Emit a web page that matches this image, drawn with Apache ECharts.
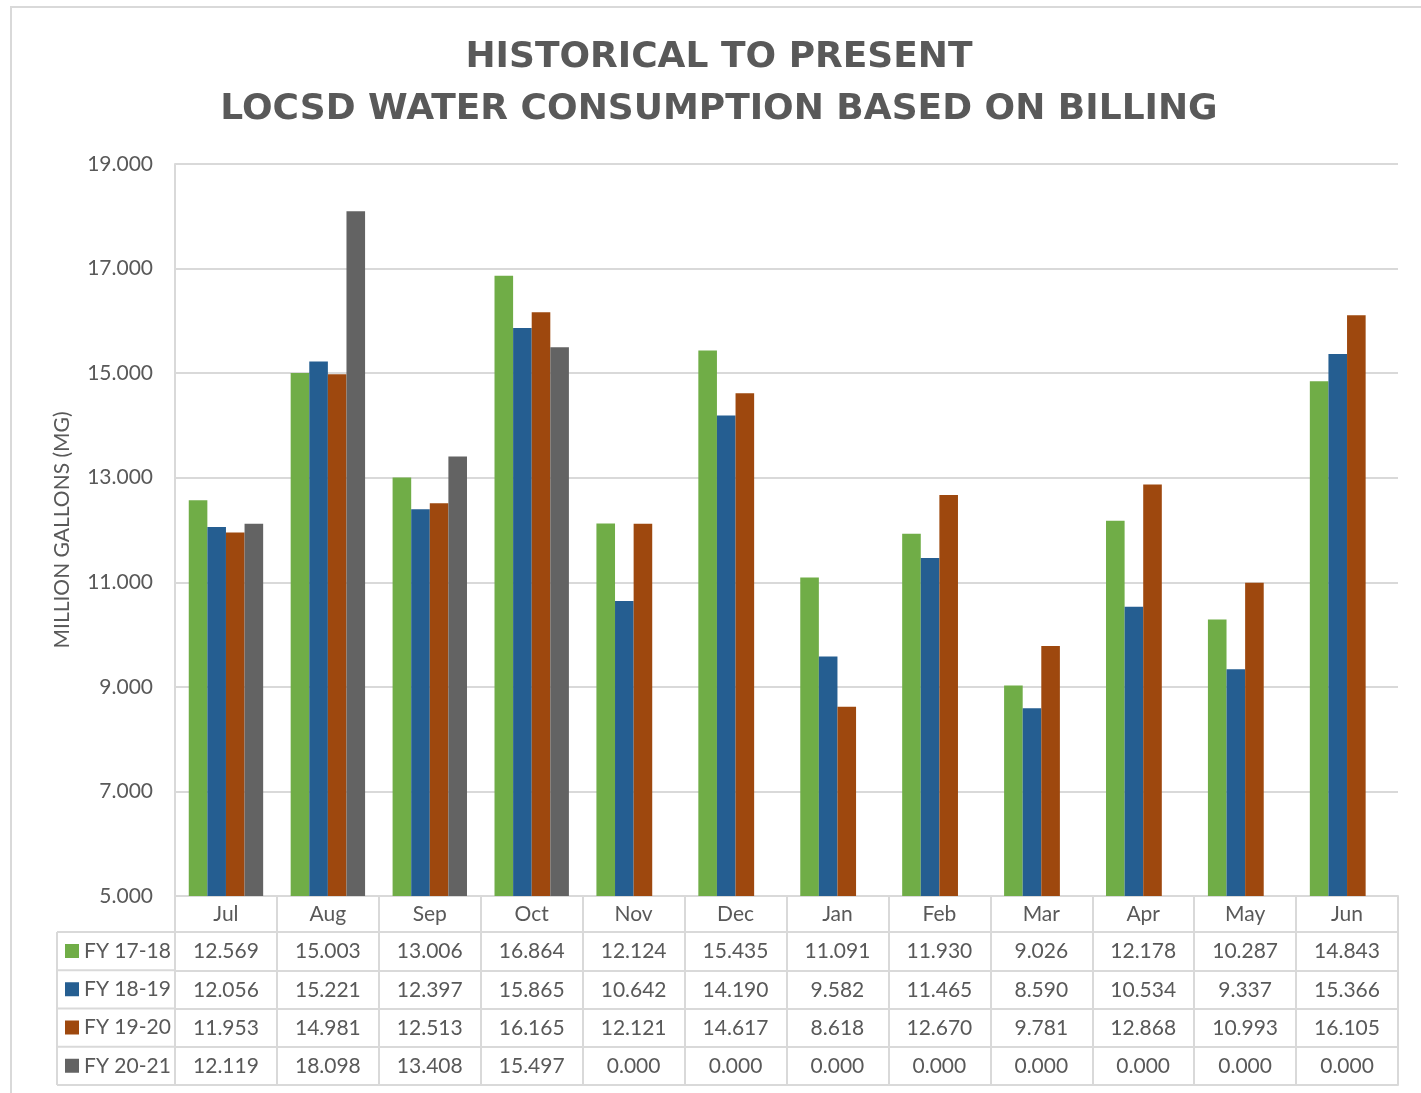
<!DOCTYPE html>
<html><head><meta charset="utf-8">
<script src="https://cdn.jsdelivr.net/npm/echarts@6/dist/echarts.min.js"></script>
<style>html,body{margin:0;padding:0;background:#fff}#c{width:1421px;height:1093px}</style>
</head><body><div id="c"></div>
<script>
const months = ['Jul','Aug','Sep','Oct','Nov','Dec','Jan','Feb','Mar','Apr','May','Jun'];
const seriesNames = ['FY 17-18','FY 18-19','FY 19-20','FY 20-21'];
const fy1718 = [12.569,15.003,13.006,16.864,12.124,15.435,11.091,11.930,9.026,12.178,10.287,14.843];
const fy1819 = [12.056,15.221,12.397,15.865,10.642,14.190,9.582,11.465,8.590,10.534,9.337,15.366];
const fy1920 = [11.953,14.981,12.513,16.165,12.121,14.617,8.618,12.670,9.781,12.868,10.993,16.105];
const fy2021 = [12.119,18.098,13.408,15.497,0,0,0,0,0,0,0,0];
const colors = ['#70AD47','#255E91','#9E480E','#636363'];
const yTicks = {min:5, max:19, interval:2};

const allData = [fy1718, fy1819, fy1920, fy2021];
const TXT = '#595959', LINE = '#D9D9D9';
const FONT = 'Lato';
const gridLeft = 175, gridRight = 23, gridTop = 164, gridBottom = 197;
const axisY = 1093 - gridBottom; // 896
const catRowH = 36, rowH = 38.25;
const tableLeft = 57;

const xAxes = [{
  type:'category', data: months, gridIndex:0, position:'bottom',
  axisLine:{show:true, lineStyle:{color:LINE, width:2}},
  axisTick:{show:true, length: catRowH + 4*rowH, interval:0, lineStyle:{color:LINE, width:2}},
  axisLabel:{color:TXT, fontFamily:FONT, fontSize:21, margin:8, interval:0}
}];
allData.forEach((arr, k) => {
  xAxes.push({
    type:'category', data: arr.map(v => v.toFixed(3)), gridIndex:0, position:'bottom',
    offset: catRowH + k*rowH,
    axisLine:{show:true, lineStyle:{color:LINE, width:2}},
    axisTick:{show:false},
    axisLabel:{color:TXT, fontFamily:FONT, fontSize:21, margin:9, interval:0}
  });
});
xAxes.push({
  type:'category', data: months.map(()=>''), gridIndex:0, position:'bottom',
  offset: catRowH + 4*rowH,
  axisLine:{show:true, lineStyle:{color:LINE, width:2}},
  axisTick:{show:false}, axisLabel:{show:false}
});

const series = allData.map((arr, k) => ({
  name: seriesNames[k], type:'bar', xAxisIndex:0, data: arr,
  itemStyle:{color: colors[k]}, barGap:'0%', barCategoryGap:'27%'
}));

const graphics = [{
  type:'rect', shape:{x:11, y:7, width:1500, height:1200},
  style:{fill:'none', stroke:LINE, lineWidth:2}, silent:true, z:-1
}];
for (let i = 0; i <= 4; i++) {
  const y = axisY + catRowH + i*rowH;
  graphics.push({type:'line', shape:{x1:tableLeft, y1:y, x2:gridLeft, y2:y}, style:{stroke:LINE, lineWidth:2}, silent:true});
}
graphics.push({type:'line', shape:{x1:tableLeft, y1:axisY+catRowH, x2:tableLeft, y2:axisY+catRowH+4*rowH}, style:{stroke:LINE, lineWidth:2}, silent:true});

const chart = echarts.init(document.getElementById('c'), null, {renderer:'canvas'});
chart.setOption({
  animation:false,
  backgroundColor:'#fff',
  title:{
    text:'HISTORICAL TO PRESENT\nLOCSD WATER CONSUMPTION BASED ON BILLING',
    left:719, top:32, padding:0, textAlign:'center',
    textStyle:{color:TXT, fontFamily:'DejaVu Sans', fontWeight:'bold', fontSize:36, lineHeight:52}
  },
  legend:{
    data: seriesNames, orient:'vertical', left:65, top: axisY + catRowH + 7,
    padding:0, itemGap: rowH - 24, itemWidth:14, itemHeight:14, icon:'rect',
    textStyle:{color:TXT, fontFamily:FONT, fontSize:21, lineHeight:24}
  },
  grid:{left:gridLeft, right:gridRight, top:gridTop, bottom:gridBottom, containLabel:false},
  xAxis: xAxes,
  yAxis:{
    type:'value', min:yTicks.min, max:yTicks.max, interval:yTicks.interval,
    name:'MILLION GALLONS (MG)', nameLocation:'middle', nameGap:102, nameRotate:90,
    nameTextStyle:{color:TXT, fontFamily:FONT, fontSize:21},
    axisLine:{show:true, lineStyle:{color:LINE, width:2}},
    axisTick:{show:false},
    axisLabel:{color:TXT, fontFamily:FONT, fontSize:21, margin:22, formatter: v => v.toFixed(3)},
    splitLine:{show:true, lineStyle:{color:LINE, width:2}}
  },
  series: series,
  graphic: graphics
});
</script></body></html>
